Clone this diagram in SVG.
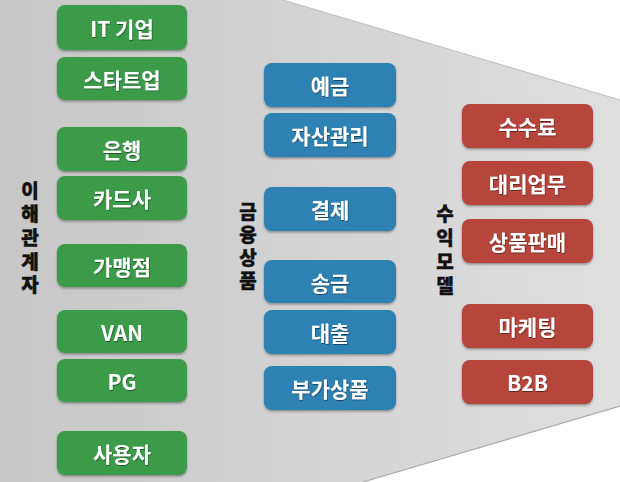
<svg xmlns="http://www.w3.org/2000/svg" width="620" height="482" viewBox="0 0 620 482">
<defs>
<linearGradient id="bg" x1="0" y1="0" x2="1" y2="0">
<stop offset="0" stop-color="#c7c7c7"/>
<stop offset="1" stop-color="#dfdfdf"/>
</linearGradient>
<filter id="sh" x="-10%" y="-20%" width="120%" height="150%">
<feDropShadow dx="0" dy="1.5" stdDeviation="1.2" flood-color="#000" flood-opacity="0.35"/>
</filter>
<filter id="tsh" x="-10%" y="-20%" width="120%" height="150%">
<feDropShadow dx="0.6" dy="1" stdDeviation="0.5" flood-color="#000" flood-opacity="0.45"/>
</filter>
</defs>
<style>
.box{filter:url(#sh)}
.g{fill:#3a9b48}
.b{fill:#2e81b3}
.r{fill:#b6453a}
.t{font-family:"Noto Sans CJK KR","Noto Sans",sans-serif;font-weight:700;font-size:21px;fill:#fff;text-anchor:middle;dominant-baseline:central;filter:url(#tsh)}
.v{font-family:"Noto Sans CJK KR","Noto Sans",sans-serif;font-weight:900;font-size:19px;fill:#111;stroke:#111;stroke-width:0.4;text-anchor:middle;writing-mode:vertical-rl;text-orientation:upright}
</style>
<rect width="620" height="482" fill="#fff"/>
<polygon points="0,0 283,0 620,100 620,406 363,482 0,482" fill="url(#bg)"/>
<polyline points="283,0 620,100" fill="none" stroke="#bdbdbd" stroke-width="1"/>
<polyline points="620,406 363,482" fill="none" stroke="#a9a9a9" stroke-width="1.2"/>

<g id="label-stakeholders">
<text class="v" x="30" y="240" letter-spacing="4.6">이해관계자</text>
</g>
<g id="label-products">
<text class="v" x="248" y="248" letter-spacing="4">금융상품</text>
</g>
<g id="label-revenue">
<text class="v" x="445" y="252" letter-spacing="5">수익모델</text>
</g>

<g id="n-it"><rect class="box g" x="57" y="5" width="130" height="45" rx="8"/><text class="t" x="122" y="27.5">IT 기업</text></g>
<g id="n-startup"><rect class="box g" x="57" y="57" width="130" height="43" rx="8"/><text class="t" x="122" y="78.5">스타트업</text></g>
<g id="n-bank"><rect class="box g" x="57" y="127" width="130" height="44" rx="8"/><text class="t" x="122" y="149">은행</text></g>
<g id="n-card"><rect class="box g" x="57" y="176" width="130" height="44" rx="8"/><text class="t" x="122" y="198">카드사</text></g>
<g id="n-merchant"><rect class="box g" x="57" y="244" width="130" height="43" rx="8"/><text class="t" x="122" y="265.5">가맹점</text></g>
<g id="n-van"><rect class="box g" x="57" y="310" width="130" height="43" rx="8"/><text class="t" x="122" y="331.5">VAN</text></g>
<g id="n-pg"><rect class="box g" x="57" y="359" width="130" height="43" rx="8"/><text class="t" x="122" y="380.5">PG</text></g>
<g id="n-user"><rect class="box g" x="57" y="431" width="130" height="44" rx="8"/><text class="t" x="122" y="453">사용자</text></g>

<g id="n-deposit"><rect class="box b" x="264" y="63" width="132" height="44" rx="8"/><text class="t" x="330" y="85">예금</text></g>
<g id="n-asset"><rect class="box b" x="264" y="113" width="132" height="44" rx="8"/><text class="t" x="330" y="135">자산관리</text></g>
<g id="n-payment"><rect class="box b" x="264" y="187" width="132" height="44" rx="8"/><text class="t" x="330" y="209">결제</text></g>
<g id="n-remit"><rect class="box b" x="264" y="260" width="132" height="43" rx="8"/><text class="t" x="330" y="281.5">송금</text></g>
<g id="n-loan"><rect class="box b" x="264" y="310" width="132" height="44" rx="8"/><text class="t" x="330" y="332">대출</text></g>
<g id="n-addon"><rect class="box b" x="264" y="366" width="132" height="44" rx="8"/><text class="t" x="330" y="388">부가상품</text></g>

<g id="n-fee"><rect class="box r" x="462" y="104" width="131" height="44" rx="8"/><text class="t" x="527.5" y="126">수수료</text></g>
<g id="n-agency"><rect class="box r" x="462" y="161" width="131" height="44" rx="8"/><text class="t" x="527.5" y="183">대리업무</text></g>
<g id="n-sales"><rect class="box r" x="462" y="219" width="131" height="44" rx="8"/><text class="t" x="527.5" y="241">상품판매</text></g>
<g id="n-marketing"><rect class="box r" x="462" y="304" width="131" height="44" rx="8"/><text class="t" x="527.5" y="326">마케팅</text></g>
<g id="n-b2b"><rect class="box r" x="462" y="360" width="131" height="44" rx="8"/><text class="t" x="527.5" y="382">B2B</text></g>

<g id="connectors"/>
</svg>
